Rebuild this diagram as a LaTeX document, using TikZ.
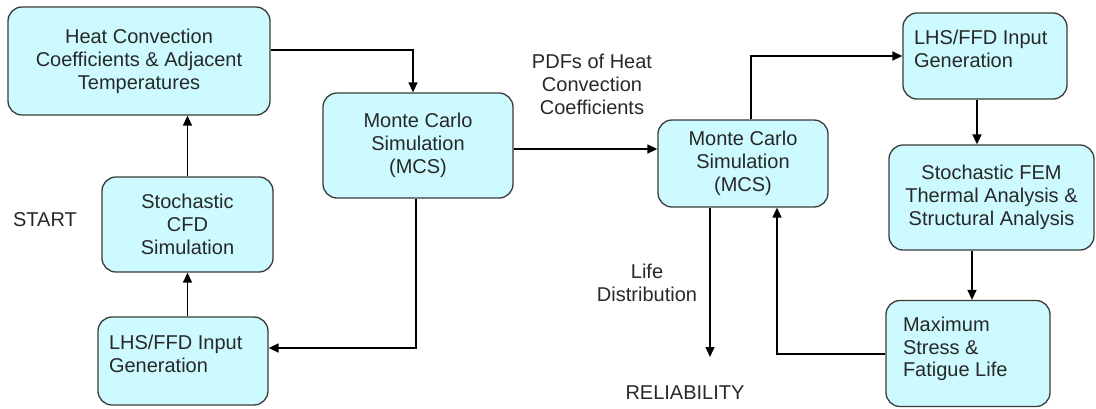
\documentclass[tikz,border=0pt]{standalone}
\usepackage{fontspec}
\setmainfont{Liberation Sans}
\usetikzlibrary{arrows.meta}
\definecolor{boxfill}{RGB}{204,250,255}
\definecolor{boxline}{RGB}{58,58,58}
\definecolor{inktext}{RGB}{40,40,40}
\tikzset{
  flowbox/.style={draw=boxline, line width=1.3pt, fill=boxfill, rounded corners=14pt,
    inner sep=0pt, align=center, text=inktext,
    font=\fontsize{20}{23}\selectfont},
  plain/.style={inner sep=0pt, align=center, text=inktext,
    font=\fontsize{20}{23}\selectfont},
  arr/.style={draw=black, line width=1.4pt, -{Triangle[length=10pt,width=9pt]}},
}
% top-aligned, left-aligned box content
\newcommand{\topleft}[3]{\parbox[c][#1][t]{#2}{\raggedright #3}}
\begin{document}
\begin{tikzpicture}[x=1pt,y=-1pt]
\useasboundingbox (0,0) rectangle (1096,408);

% boxes
\node[flowbox, minimum width=262pt, minimum height=108pt] (hcc) at (139,61)
  {Heat Convection\\Coefficients \& Adjacent\\Temperatures};
\node[flowbox, minimum width=190pt, minimum height=105pt] (mcs1) at (418,145.5)
  {Monte Carlo\\Simulation\\(MCS)};
\node[flowbox, minimum width=171pt, minimum height=95pt] (cfd) at (187.5,224.5)
  {Stochastic\\CFD\\Simulation};
\node[flowbox, minimum width=170pt, minimum height=88pt] (lhs1) at (183,361)
  {\topleft{52pt}{148pt}{LHS/FFD Input\\Generation}};
\node[flowbox, minimum width=170pt, minimum height=87pt] (mcs2) at (743,163.5)
  {Monte Carlo\\Simulation\\(MCS)};
\node[flowbox, minimum width=164pt, minimum height=86pt] (lhs2) at (985,56)
  {\topleft{52pt}{142pt}{LHS/FFD Input\\Generation}};
\node[flowbox, minimum width=205pt, minimum height=105pt] (fem) at (991.5,197.5)
  {Stochastic FEM\\Thermal Analysis \&\\Structural Analysis};
\node[flowbox, minimum width=164pt, minimum height=106pt] (maxs) at (968,353.5)
  {\topleft{74pt}{130pt}{Maximum\\Stress \&\\Fatigue Life}};

% free labels
\node[plain] (start) at (45,220) {START};
\node[plain] (pdfs) at (592,84) {PDFs of Heat\\Convection\\Coefficients};
\node[plain] (life) at (647,283) {Life\\Distribution};
\node[plain] (rel) at (685,393) {RELIABILITY};

% routing points
\coordinate (j1) at (413,50);
\coordinate (j2) at (416,348);
\coordinate (j3) at (0,149);
\coordinate (j4) at (751,56);
\coordinate (j5) at (977,0);
\coordinate (j6) at (972,0);
\coordinate (j7) at (777,354);
\coordinate (j8) at (710,0);
\coordinate (relin) at (710,357);

% connectors
\draw[arr] (hcc.east |- j1) -| (mcs1.north -| j1);
\draw[arr] (cfd.north) -- (cfd.north |- hcc.south);
\draw[arr] (cfd.south |- lhs1.north) -- (cfd.south);
\draw[arr] (mcs1.south -| j2) |- (lhs1.east |- j2);
\draw[arr] (mcs1.east |- j3) -- (mcs2.west |- j3);
\draw[arr] (mcs2.north -| j4) |- (lhs2.west |- j4);
\draw[arr] (lhs2.south -| j5) -- (fem.north -| j5);
\draw[arr] (fem.south -| j6) -- (maxs.north -| j6);
\draw[arr] (maxs.west |- j7) -| (mcs2.south -| j7);
\draw[arr] (mcs2.south -| j8) -- (relin);
\end{tikzpicture}
\end{document}
